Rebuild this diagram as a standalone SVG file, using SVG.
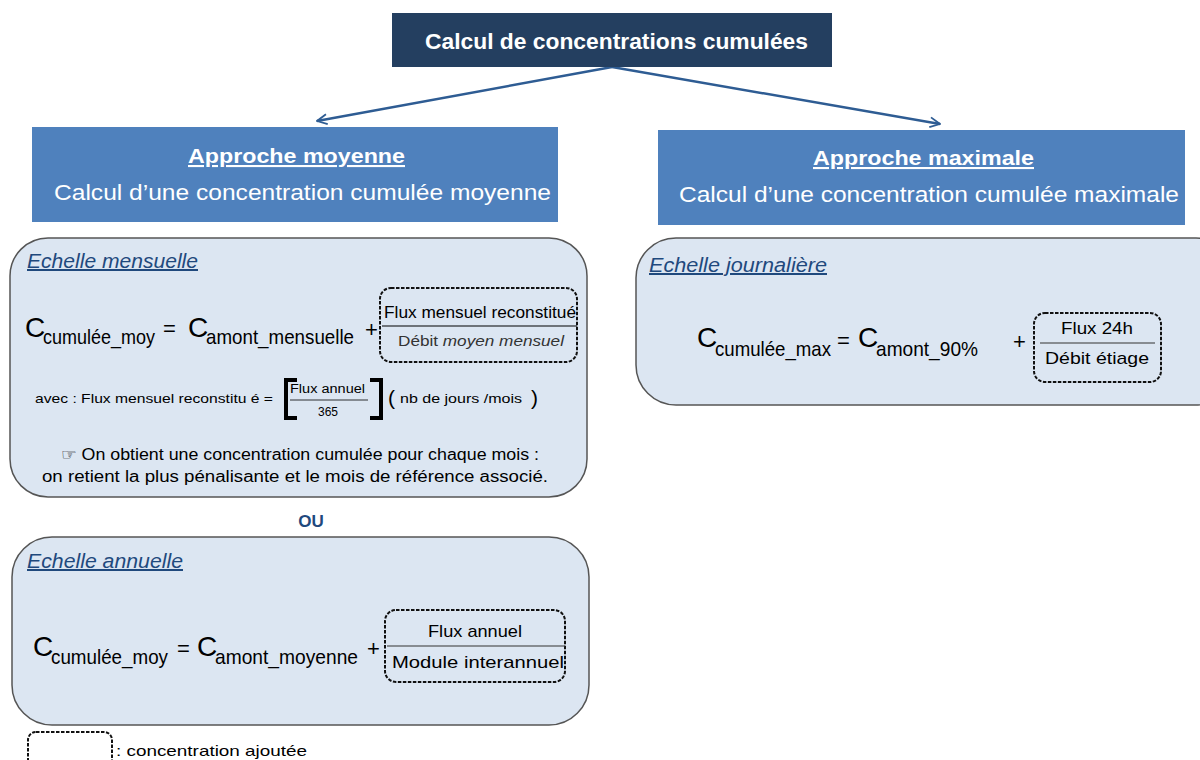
<svg xmlns="http://www.w3.org/2000/svg" width="1200" height="760" viewBox="0 0 1200 760">
<style>
text{font-family:"Liberation Sans","Open Sans",sans-serif;}
.hd{fill:#243F60;}
.blue{fill:#4F81BD;}
.wt{fill:#FFFFFF;}
.panel{fill:#DCE6F2;stroke:#555555;stroke-width:1.5;}
.dash{fill:none;stroke:#111111;stroke-width:2;stroke-dasharray:3.5 1.5;}
.ech{fill:#1F497D;font-style:italic;font-size:20px;text-decoration:underline;}
.eq{fill:#000;}
.big{font-size:28px;}
.sub{font-size:21px;}
.op{font-size:22px;}
.fr{font-size:17px;fill:#000;}
.conn{stroke:#2E5C93;stroke-width:2.4;fill:none;}
</style>
<defs>
<marker id="arr" viewBox="0 0 12 12" refX="11" refY="6" markerWidth="12" markerHeight="12" markerUnits="userSpaceOnUse" orient="auto">
<path d="M1,1 L11,6 L1,11" fill="none" stroke="#2E5C93" stroke-width="1.8"/>
</marker>
</defs>
<rect width="1200" height="760" fill="#FFFFFF"/>

<g id="connectors">
<line class="conn" x1="612" y1="67" x2="317" y2="121" marker-end="url(#arr)"/>
<line class="conn" x1="612" y1="67" x2="940" y2="124" marker-end="url(#arr)"/>
</g>

<g id="title">
<rect class="hd" x="392" y="13" width="440" height="54"/>
<text x="425" y="49" font-size="22" font-weight="bold" class="wt" textLength="383" lengthAdjust="spacingAndGlyphs">Calcul de concentrations cumulées</text>
</g>

<g id="approche-moyenne">
<rect class="blue" x="32" y="127" width="526" height="95"/>
<text x="188" y="163" font-size="21" font-weight="bold" class="wt" text-decoration="underline" textLength="217" lengthAdjust="spacingAndGlyphs">Approche moyenne</text>
<text x="54" y="200" font-size="22" class="wt" textLength="497" lengthAdjust="spacingAndGlyphs">Calcul d’une concentration cumulée moyenne</text>
</g>

<g id="approche-maximale">
<rect class="blue" x="658" y="130" width="527" height="95"/>
<text x="813" y="165" font-size="21" font-weight="bold" class="wt" text-decoration="underline" textLength="221" lengthAdjust="spacingAndGlyphs">Approche maximale</text>
<text x="679" y="202" font-size="22" class="wt" textLength="500" lengthAdjust="spacingAndGlyphs">Calcul d’une concentration cumulée maximale</text>
</g>

<g id="echelle-mensuelle">
<rect class="panel" x="10" y="238" width="577" height="259" rx="38" ry="38"/>
<text class="ech" x="27" y="268" textLength="171" lengthAdjust="spacingAndGlyphs">Echelle mensuelle</text>
<text class="eq"><tspan class="big" x="25" y="337">C</tspan><tspan class="sub" x="43" y="344" textLength="112" lengthAdjust="spacingAndGlyphs">cumulée_moy</tspan><tspan class="op" x="163" y="336">=</tspan><tspan class="big" x="188" y="337">C</tspan><tspan class="sub" x="206" y="344" textLength="148" lengthAdjust="spacingAndGlyphs">amont_mensuelle</tspan><tspan class="op" x="365" y="337">+</tspan></text>
<rect class="dash" x="380" y="288" width="197" height="74" rx="11"/>
<text class="fr" x="384" y="318" textLength="192" lengthAdjust="spacingAndGlyphs">Flux mensuel reconstitué</text>
<line x1="382" y1="326" x2="577" y2="326" stroke="#000" stroke-width="1"/>
<text x="398" y="346" font-size="15" fill="#333" textLength="166" lengthAdjust="spacingAndGlyphs">Débit <tspan font-style="italic">moyen mensuel</tspan></text>
<text x="35" y="403" font-size="13" fill="#000" textLength="238" lengthAdjust="spacingAndGlyphs">avec : Flux mensuel  reconstitu é =</text>
<path d="M297,380 L286,380 L286,418 L297,418" fill="none" stroke="#000" stroke-width="4"/>
<path d="M370,380 L381,380 L381,418 L370,418" fill="none" stroke="#000" stroke-width="4"/>
<text x="290" y="393" font-size="12" fill="#000" textLength="75" lengthAdjust="spacingAndGlyphs">Flux  annuel</text>
<line x1="290" y1="400" x2="368" y2="400" stroke="#000" stroke-width="0.8"/>
<text x="318" y="416" font-size="12" fill="#000">365</text>
<text fill="#000"><tspan x="388" y="405" font-size="21">(</tspan><tspan x="400" y="403" font-size="13" textLength="122" lengthAdjust="spacingAndGlyphs">nb de jours  /mois</tspan><tspan x="531" y="405" font-size="21">)</tspan></text>
<text x="300" y="460" font-size="16" fill="#000" text-anchor="middle" textLength="478" lengthAdjust="spacingAndGlyphs">☞ On obtient une concentration cumulée pour chaque mois :</text>
<text x="295" y="482" font-size="16" fill="#000" text-anchor="middle" textLength="506" lengthAdjust="spacingAndGlyphs">on retient la plus pénalisante et le mois de référence associé.</text>
</g>

<g id="ou">
<text x="311" y="527" font-size="17" font-weight="bold" fill="#1F497D" text-anchor="middle">OU</text>
</g>

<g id="echelle-annuelle">
<rect class="panel" x="12" y="537" width="577" height="188" rx="40" ry="40"/>
<text class="ech" x="27" y="568" textLength="156" lengthAdjust="spacingAndGlyphs">Echelle annuelle</text>
<text class="eq"><tspan class="big" x="33" y="656">C</tspan><tspan class="sub" x="51" y="664" textLength="117" lengthAdjust="spacingAndGlyphs">cumulée_moy</tspan><tspan class="op" x="177" y="656">=</tspan><tspan class="big" x="197" y="656">C</tspan><tspan class="sub" x="215" y="664" textLength="143" lengthAdjust="spacingAndGlyphs">amont_moyenne</tspan><tspan class="op" x="367" y="656">+</tspan></text>
<rect class="dash" x="385" y="610" width="180" height="72" rx="11"/>
<text class="fr" x="475" y="637" text-anchor="middle" textLength="94" lengthAdjust="spacingAndGlyphs">Flux annuel</text>
<line x1="387" y1="646" x2="565" y2="646" stroke="#333" stroke-width="1"/>
<text class="fr" x="392" y="668" textLength="172" lengthAdjust="spacingAndGlyphs">Module interannuel</text>
</g>

<g id="echelle-journaliere">
<rect class="panel" x="636" y="238" width="600" height="167" rx="40" ry="40"/>
<text class="ech" x="649" y="272" textLength="178" lengthAdjust="spacingAndGlyphs">Echelle journalière</text>
<text class="eq"><tspan class="big" x="697" y="347">C</tspan><tspan class="sub" x="715" y="356" textLength="116" lengthAdjust="spacingAndGlyphs">cumulée_max</tspan><tspan class="op" x="837" y="348">=</tspan><tspan class="big" x="858" y="347">C</tspan><tspan class="sub" x="876" y="356" textLength="102" lengthAdjust="spacingAndGlyphs">amont_90%</tspan><tspan class="op" x="1013" y="349">+</tspan></text>
<rect class="dash" x="1034" y="313" width="127" height="69" rx="11"/>
<text class="fr" x="1097" y="334" text-anchor="middle" textLength="72" lengthAdjust="spacingAndGlyphs">Flux 24h</text>
<line x1="1040" y1="343" x2="1155" y2="343" stroke="#333" stroke-width="1"/>
<text class="fr" x="1097" y="364" text-anchor="middle" textLength="104" lengthAdjust="spacingAndGlyphs">Débit étiage</text>
</g>

<g id="legend">
<rect class="dash" x="28" y="732" width="84" height="40" rx="8"/>
<text x="116" y="756" font-size="15" fill="#000" textLength="191" lengthAdjust="spacingAndGlyphs">: concentration ajoutée</text>
</g>
</svg>
